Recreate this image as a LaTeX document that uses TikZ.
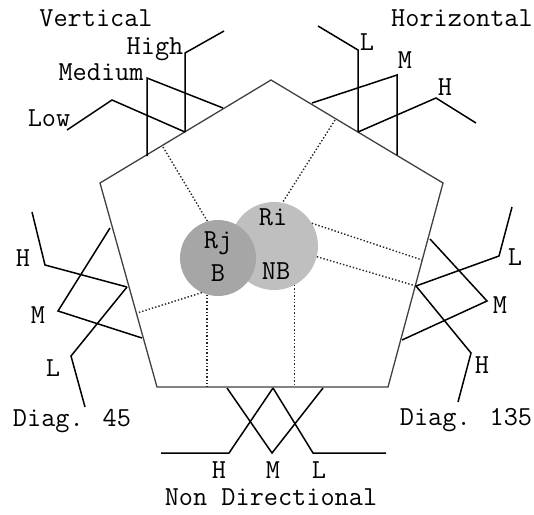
\documentclass[tikz,border=0pt]{standalone}
\usepackage{fontspec}
\begin{document}
\begin{tikzpicture}[x=1pt,y=-1pt,
  lbl/.style={font=\ttfamily\fontsize{27.5}{28}\selectfont, inner sep=0pt,
              text height=16.5pt, text depth=0pt},
  rim/.style={draw=black!75, line width=1.3pt, line join=miter},
  mf/.style={draw=black, line width=1.5pt, line join=miter},
  guide/.style={draw=black!85, line width=1.4pt, dotted},
  region/.style={circle, inner sep=0pt, draw=none}]
\useasboundingbox (0,0) rectangle (534,514);

% pentagon corners
\coordinate (T)  at (271,80);
\coordinate (UL) at (100,183);
\coordinate (UR) at (443,183);
\coordinate (LL) at (157,387);
\coordinate (LR) at (388,387);
\draw[rim] (T) -- (UR) -- (LR) -- (LL) -- (UL) -- cycle;

% regions
\node[region, minimum size=88pt, fill=black!25] (Ri) at (274,246) {};
\node[region, minimum size=76pt, fill=black!35] (Rj) at (218,258) {};
\node[lbl] (tRi) at (273,217) {Ri};
\node[lbl] (tNB) at (276,271) {NB};
\node[lbl] (tRj) at (218,240) {Rj};
\node[lbl] (tB)  at (218,273) {B};

% guide lines from the rim to the regions
\coordinate (gV) at (163,147);
\coordinate (gH) at (335,120);
\coordinate (gR1) at (422,260);
\coordinate (gR2) at (416,286);
\coordinate (gL) at (137,313);
\draw[guide] (gV) -- (Rj.106);
\draw[guide] (gH) -- (Ri.79);
\draw[guide] (Ri.31) -- (gR1);
\draw[guide] (Ri.-14) -- (gR2);
\draw[guide] (Rj.245) -- (gL);
\draw[guide] (Rj.253) -- (Rj.253 |- LL);
\draw[guide] (Ri.-62) -- (Ri.-62 |- LL);

% Vertical
\draw[mf] (67,130) -- (112,100) -- (185,132);
\draw[mf] (147,156) -- (147,78) -- (223,108);
\draw[mf] (185,132) -- (185,53) -- (224,31);
\node[lbl] (vt) at (96,18) {Vertical};
\node[lbl] (vh) at (155,46) {High};
\node[lbl] (vm) at (101,72) {Medium};
\node[lbl] (vl) at (49,118) {Low};

% Horizontal
\draw[mf] (318,26) -- (358,50) -- (358,132);
\draw[mf] (312,103) -- (397,75) -- (397,155);
\draw[mf] (358,132) -- (436,98) -- (476,123);
\node[lbl] (ht) at (462,18) {Horizontal};
\node[lbl] (hl) at (367,42) {L};
\node[lbl] (hm) at (405,60) {M};
\node[lbl] (hh) at (445,87) {H};

% Diag. 45
\draw[mf] (32,212) -- (45,265) -- (127,287);
\draw[mf] (110,228) -- (58,311) -- (142,338);
\draw[mf] (127,287) -- (71,356) -- (85,407);
\node[lbl] (at) at (72,418) {Diag. 45};
\node[lbl] (ah) at (23,258) {H};
\node[lbl] (am) at (38,315) {M};
\node[lbl] (al) at (53,368) {L};

% Diag. 135
\draw[mf] (512,207) -- (499,256) -- (416,286);
\draw[mf] (430,239) -- (487,301) -- (402,340);
\draw[mf] (416,286) -- (471,353) -- (458,402);
\node[lbl] (bt) at (466,417) {Diag. 135};
\node[lbl] (bl) at (515,257) {L};
\node[lbl] (bm) at (500,305) {M};
\node[lbl] (bh) at (482,365) {H};

% Non Directional
\draw[mf] (161,453) -- (229,453) -- (273,388);
\draw[mf] (227,388) -- (272,453) -- (323,388);
\draw[mf] (273,388) -- (313,453) -- (386,453);
\node[lbl] (nt) at (271,497) {Non Directional};
\node[lbl] (nh) at (219,470) {H};
\node[lbl] (nm) at (273,470) {M};
\node[lbl] (nl) at (319,470) {L};
\end{tikzpicture}
\end{document}
